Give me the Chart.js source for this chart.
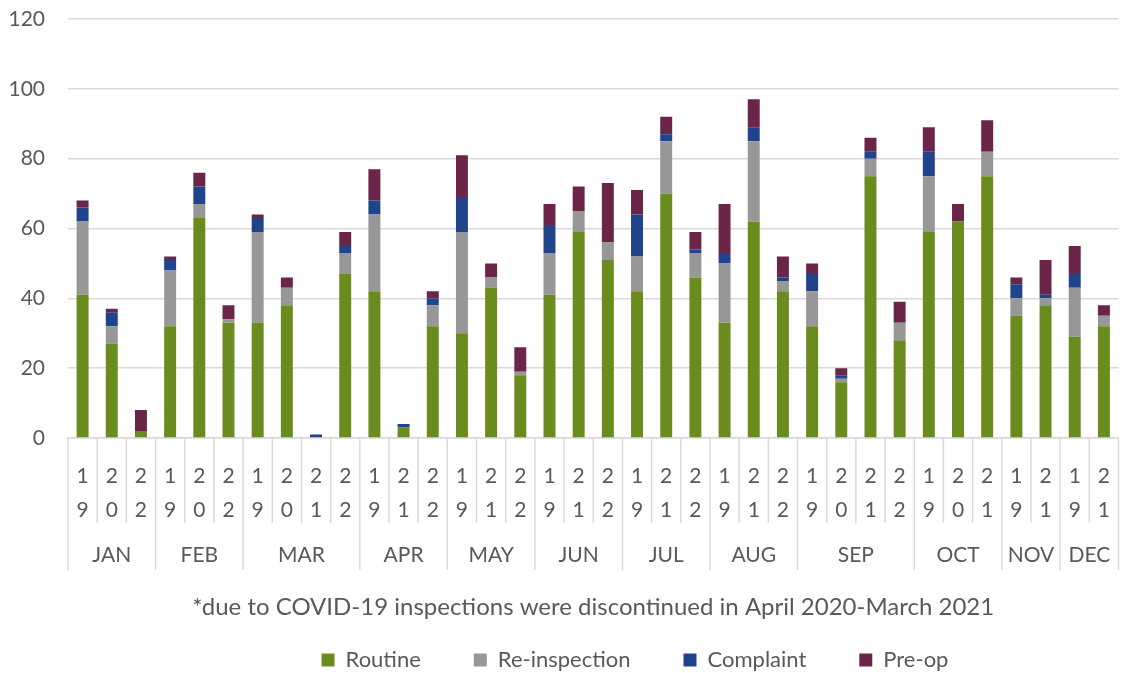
<!DOCTYPE html>
<html>
<head>
<meta charset="utf-8">
<title>Inspections by month and year</title>
<script src="https://cdn.jsdelivr.net/npm/chart.js@4.4.1/dist/chart.umd.min.js"></script>
<style>
  html, body { margin: 0; padding: 0; background: #fff; }
  #wrap { width: 1123px; height: 673px; }
</style>
</head>
<body>
<div id="wrap"><canvas id="chart"></canvas></div>
<script>
// --- data ---
const months = ['JAN', 'FEB', 'MAR', 'APR', 'MAY', 'JUN', 'JUL', 'AUG', 'SEP', 'OCT', 'NOV', 'DEC'];
const yearsByMonth = [
  ['19', '20', '22'], ['19', '20', '22'], ['19', '20', '21', '22'], ['19', '21', '22'],
  ['19', '21', '22'], ['19', '21', '22'], ['19', '21', '22'], ['19', '21', '22'],
  ['19', '20', '21', '22'], ['19', '20', '21'], ['19', '21'], ['19', '21']
];

const routine      = [41, 27, 2,  32, 63, 33,  33, 38, 0, 47,  42, 3, 32,  30, 43, 18,  41, 59, 51,  42, 70, 46,  33, 62, 42,  32, 16, 75, 28,  59, 62, 75,  35, 38,  29, 32];
const reinspection = [21, 5, 0,   16, 4, 1,    26, 5, 0, 6,    22, 0, 6,   29, 3, 1,    12, 6, 5,    10, 15, 7,  17, 23, 3,   10, 1, 5, 5,    16, 0, 7,   5, 2,    14, 3];
const complaint    = [4, 4, 0,    3, 5, 0,     4, 0, 1, 2,     4, 1, 2,    10, 0, 0,    8, 0, 0,     12, 2, 1,   3, 4, 1,     5, 1, 2, 0,     7, 0, 0,    4, 1,    4, 0];
const preop        = [2, 1, 6,    1, 4, 4,     1, 3, 0, 4,     9, 0, 2,    12, 4, 7,    6, 7, 17,    7, 5, 5,    14, 8, 6,    3, 2, 4, 6,     7, 5, 9,    2, 10,   8, 3];

const yMax = 120;
const yStep = 20;
const note = '*due to COVID-19 inspections were discontinued in April 2020-March 2021';

// --- look ---
const GREEN = '#6A8C1F';
const GREY = '#979797';
const BLUE = '#1F448C';
const PLUM = '#6B2549';
const TEXT = '#595959';
const GRID = '#D9D9D9';

// year digits stacked one above the other, remember which month each bar is in
const labels = [];
const monthOf = [];
yearsByMonth.forEach((yrs, m) => {
  yrs.forEach(y => {
    labels.push(y.split(''));
    monthOf.push(m);
  });
});

// second axis row: separators + month names
const monthRow = {
  id: 'monthRow',
  afterDraw(chart) {
    const x = chart.scales.x;
    const ctx = chart.ctx;
    const edge = i => x.getPixelForValue(i - 0.5);

    ctx.save();
    ctx.strokeStyle = GRID;
    ctx.lineWidth = 1.5;
    for (let i = 0; i <= labels.length; i++) {
      const newMonth = i === 0 || i === labels.length || monthOf[i] !== monthOf[i - 1];
      const px = edge(i);
      ctx.beginPath();
      ctx.moveTo(px, x.top);
      ctx.lineTo(px, x.top + (newMonth ? 132 : 85));
      ctx.stroke();
    }

    ctx.fillStyle = TEXT;
    ctx.font = '21px Lato';
    ctx.textAlign = 'center';
    ctx.textBaseline = 'middle';
    let start = 0;
    months.forEach((name, m) => {
      const n = yearsByMonth[m].length;
      ctx.fillText(name, (edge(start) + edge(start + n)) / 2, x.top + 117);
      start += n;
    });
    ctx.restore();
  }
};

// Excel parks the legend right of centre, close under the note
const legendSpot = {
  id: 'legendSpot',
  afterLayout(chart) {
    const lg = chart.legend;
    lg.left += 66;
    lg.right += 66;
    lg.top = 596;
    lg.bottom = 673;
  }
};

function drawChart() {
  Chart.defaults.font.family = 'Lato, "Open Sans", sans-serif';
  Chart.defaults.color = TEXT;

  new Chart(document.getElementById('chart'), {
    type: 'bar',
    data: {
      labels: labels,
      datasets: [
        { label: 'Routine', data: routine, backgroundColor: GREEN },
        { label: 'Re-inspection', data: reinspection, backgroundColor: GREY },
        { label: 'Complaint', data: complaint, backgroundColor: BLUE },
        { label: 'Pre-op', data: preop, backgroundColor: PLUM }
      ]
    },
    options: {
      responsive: true, maintainAspectRatio: false, animation: false,
      // the original plot runs a little past the right edge of the picture
      layout: { padding: { top: 19, left: 8, right: -7, bottom: 0 } },
      datasets: { bar: { barPercentage: 0.41, categoryPercentage: 1, borderWidth: 0 } },
      plugins: {
        legend: {
          position: 'bottom', maxHeight: 30,
          labels: { boxWidth: 13, boxHeight: 13, padding: 53, color: TEXT, font: { size: 22 } }
        },
        tooltip: { enabled: false }
      },
      scales: {
        x: {
          stacked: true,
          grid: { display: false },
          border: { display: true, color: GRID, width: 1.5 },
          ticks: { autoSkip: false, maxRotation: 0, padding: 13, color: TEXT, font: { size: 21, lineHeight: '34px' } },
          title: { display: true, text: note, color: TEXT, font: { size: 24 }, padding: { top: 0, bottom: 21 } },
          afterFit: s => { s.height = 205; }
        },
        y: {
          stacked: true, min: 0, max: yMax,
          ticks: { stepSize: yStep, padding: 23, color: TEXT, font: { size: 21 } },
          grid: { color: GRID, lineWidth: 1.5, drawTicks: false },
          border: { display: false },
          afterFit: s => {
            s.width = 60;
            s.paddingTop = 13;
            s.paddingBottom = 13;
          }
        }
      }
    },
    plugins: [monthRow, legendSpot]
  });
}

document.fonts.load('21px Lato').then(drawChart, drawChart);
</script>
</body>
</html>
